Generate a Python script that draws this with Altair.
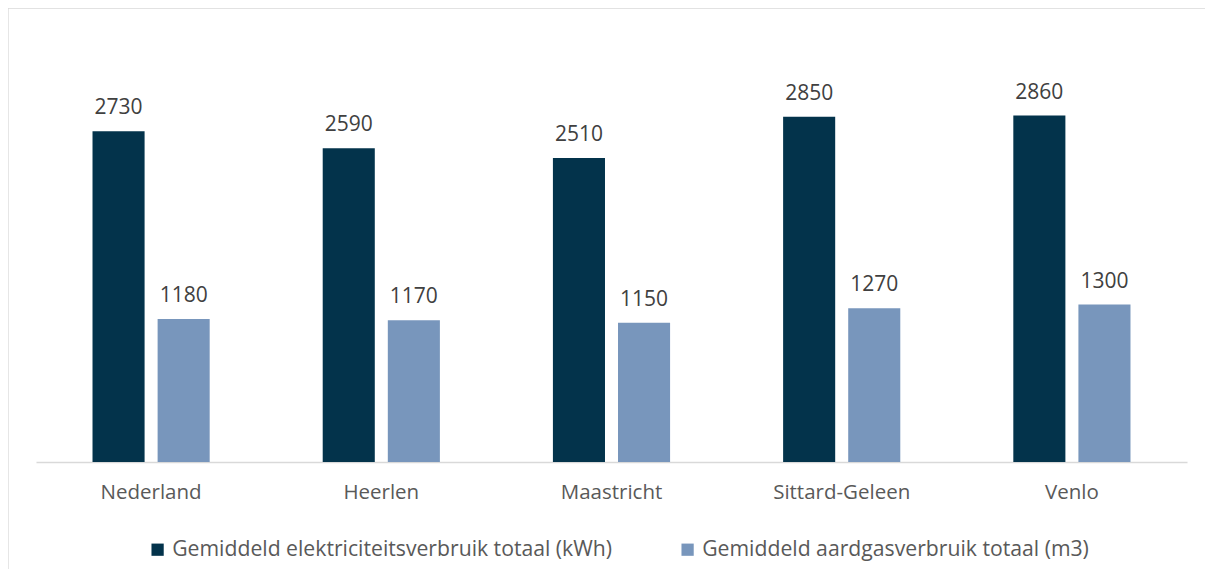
import altair as alt
import pandas as pd

categories = ["Nederland", "Heerlen", "Maastricht", "Sittard-Geleen", "Venlo"]
series = ["Gemiddeld elektriciteitsverbruik totaal (kWh)", "Gemiddeld aardgasverbruik totaal (m3)"]
elektriciteit = [2730, 2590, 2510, 2850, 2860]
aardgas = [1180, 1170, 1150, 1270, 1300]
colors = ["#03334B", "#7896BC"]

rows = []
for i, c in enumerate(categories):
    rows.append({"cat": c, "serie": series[0], "val": elektriciteit[i]})
    rows.append({"cat": c, "serie": series[1], "val": aardgas[i]})
df = pd.DataFrame(rows)

FONT = "Open Sans"

x = alt.X("cat:N", sort=categories, title=None,
          scale=alt.Scale(paddingInner=0.491, paddingOuter=0.2455),
          axis=alt.Axis(labelAngle=0, labelFont=FONT, labelFontSize=20.5, labelColor="#595959",
                        labelPadding=20, ticks=False, domainColor="#d9d9d9", domainWidth=1.3))
xo = alt.XOffset("serie:N", sort=series, scale=alt.Scale(paddingInner=0.2, paddingOuter=0))
y = alt.Y("val:Q", title=None, scale=alt.Scale(domain=[0, 3500], nice=False), axis=None)

bars = alt.Chart(df).mark_bar().encode(
    x=x, xOffset=xo, y=y,
    color=alt.Color("serie:N", sort=series, scale=alt.Scale(domain=series, range=colors),
                    legend=alt.Legend(title=None, orient="none", legendX=111, legendY=501,
                                      direction="horizontal", symbolType="square", symbolSize=150,
                                      symbolStrokeWidth=0, labelFont=FONT, labelFontSize=21.2,
                                      labelColor="#595959", labelLimit=700, columnPadding=64,
                                      labelOffset=4)),
)

labels = alt.Chart(df).mark_text(baseline="alphabetic", dy=-17, font=FONT, fontSize=21, color="#404040").encode(
    x=x, xOffset=xo, y=y, text=alt.Text("val:Q", format="d")
)

frame_data = alt.Data(values=[{"a": 1}])
frame_left = alt.Chart(frame_data).mark_rule(color="#d9d9d9", strokeWidth=1.3, clip=False).encode(
    x=alt.value(-28), y=alt.value(-30), y2=alt.value(600)
)
frame_top = alt.Chart(frame_data).mark_rule(color="#d9d9d9", strokeWidth=1.3, clip=False).encode(
    x=alt.value(-28), x2=alt.value(1250), y=alt.value(-30)
)

chart = alt.layer(frame_left, frame_top, bars, labels).properties(
    width=1151, height=424,
    background="white",
    autosize=alt.AutoSizeParams(type="none"),
    padding={"left": 28, "top": 30, "right": 18, "bottom": 107},
).configure_view(stroke=None, strokeWidth=0)

chart.save("out.html", embed_options={"renderer": "svg", "actions": False})
